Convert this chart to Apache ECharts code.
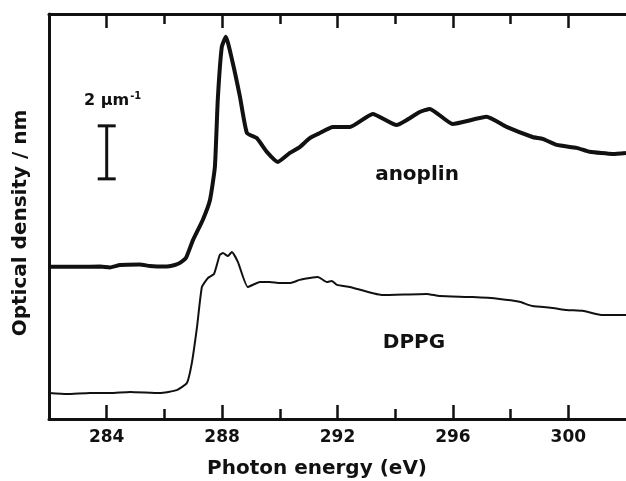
<!DOCTYPE html>
<html>

<head>
    <meta charset="UTF-8" />
    <script src="https://cdn.jsdelivr.net/npm/echarts@6/dist/echarts.min.js"></script>
</head>

<body style="margin: 0; overflow: hidden; background: #fff;">
    <div id="chart" style="width: 626px; height: 481px;"></div>
    <script type="text/javascript">

        // anoplin spectrum (thick line)
        var anoplinEnergy = [282.00, 283.07, 283.77, 284.11, 284.46, 285.15, 285.50, 286.02, 286.36, 286.54,
            286.75, 286.99, 287.33, 287.58, 287.75, 287.85, 287.99, 288.13, 288.37, 288.62,
            288.86, 289.20, 289.55, 289.93, 290.35, 290.69, 291.04, 291.39, 291.84, 292.43,
            293.22, 294.05, 294.40, 294.85, 295.20, 295.99, 297.17, 297.86, 298.76, 299.11,
            299.60, 300.29, 300.74, 301.54, 302.00];
        var anoplinOD = [5.74, 5.74, 5.75, 5.72, 5.81, 5.83, 5.77, 5.75, 5.81, 5.89,
            6.08, 6.75, 7.51, 8.26, 9.51, 12.04, 14.04, 14.42, 13.43, 12.15,
            10.79, 10.60, 10.08, 9.70, 10.04, 10.26, 10.60, 10.79, 11.02, 11.02,
            11.51, 11.09, 11.28, 11.58, 11.70, 11.13, 11.40, 11.02, 10.64, 10.57,
            10.34, 10.23, 10.08, 10.00, 10.04];

        // DPPG spectrum (thin line)
        var dppgEnergy = [282.00, 282.62, 283.42, 284.11, 284.81, 285.84, 286.43, 286.78, 286.95, 287.13,
            287.30, 287.51, 287.72, 287.92, 288.03, 288.20, 288.34, 288.55, 288.89, 289.31,
            289.65, 290.00, 290.35, 290.69, 291.04, 291.32, 291.63, 291.80, 291.98, 292.43,
            293.53, 295.09, 295.54, 296.69, 297.62, 298.31, 298.76, 299.46, 299.94, 300.50,
            301.19, 302.00];
        var dppgOD = [0.98, 0.94, 0.98, 0.98, 1.02, 0.98, 1.09, 1.36, 2.11, 3.47,
            4.98, 5.32, 5.47, 6.19, 6.26, 6.15, 6.30, 5.92, 4.98, 5.17,
            5.17, 5.13, 5.13, 5.25, 5.32, 5.36, 5.17, 5.21, 5.06, 4.98,
            4.68, 4.72, 4.64, 4.60, 4.53, 4.42, 4.26, 4.19, 4.11, 4.08,
            3.92, 3.92];

        // scale bar: [x, bottom, top]  (2 um^-1)
        var scaleBar = [[284, 9.06, 11.06]];

        var majorTicks = [284, 288, 292, 296, 300];
        var minorTicks = [286, 290, 294, 298];

        var font = 'DejaVu Sans';
        var ink = '#111';

        function pairs(xs, ys) {
            return xs.map(function (x, i) { return [x, ys[i]]; });
        }

        var myChart = echarts.init(document.getElementById('chart'));

        function xAx(pos, ticks, len, withLine, withLabel) {
            return {
                type: 'value',
                position: pos,
                min: 282,
                max: 302,
                axisLine: { show: withLine, onZero: false, lineStyle: { color: ink, width: 3 } },
                axisTick: { show: true, inside: true, length: len, customValues: ticks, lineStyle: { color: ink, width: 2.5 } },
                axisLabel: {
                    show: withLabel, customValues: ticks, margin: 10,
                    fontFamily: font, fontWeight: 'bold', fontSize: 17, color: ink
                },
                splitLine: { show: false }
            };
        }

        var option = {
            animation: false,
            backgroundColor: '#fff',
            grid: { left: 49, right: -2, top: 14, bottom: 62 },
            xAxis: [
                xAx('bottom', majorTicks, 14, true, true),
                xAx('bottom', minorTicks, 10, false, false),
                xAx('top', majorTicks, 14, true, false),
                xAx('top', minorTicks, 10, false, false)
            ],
            yAxis: {
                type: 'value',
                min: 0,
                max: 15.28,
                axisLine: { show: true, lineStyle: { color: ink, width: 3 } },
                axisTick: { show: false },
                axisLabel: { show: false },
                splitLine: { show: false }
            },
            series: [
                {
                    name: 'anoplin',
                    type: 'line',
                    data: pairs(anoplinEnergy, anoplinOD),
                    showSymbol: false,
                    smooth: 0.15,
                    lineStyle: { color: ink, width: 4 }
                },
                {
                    name: 'DPPG',
                    type: 'line',
                    data: pairs(dppgEnergy, dppgOD),
                    showSymbol: false,
                    smooth: 0.15,
                    lineStyle: { color: ink, width: 2 }
                },
                {
                    name: 'scale',
                    type: 'custom',
                    data: scaleBar,
                    renderItem: function (params, api) {
                        var lo = api.coord([api.value(0), api.value(1)]);
                        var hi = api.coord([api.value(0), api.value(2)]);
                        var half = 9;
                        var st = { stroke: ink, lineWidth: 3 };
                        return {
                            type: 'group',
                            children: [
                                { type: 'line', shape: { x1: lo[0], y1: lo[1], x2: hi[0], y2: hi[1] }, style: st },
                                { type: 'line', shape: { x1: lo[0] - half, y1: lo[1], x2: lo[0] + half, y2: lo[1] }, style: st },
                                { type: 'line', shape: { x1: hi[0] - half, y1: hi[1], x2: hi[0] + half, y2: hi[1] }, style: st }
                            ]
                        };
                    }
                }
            ],
            graphic: [
                {
                    type: 'text', left: 84, top: 91,
                    style: {
                        text: '{b|2 \u00b5m}{s|-1}',
                        rich: {
                            b: { fontFamily: font, fontWeight: 'bold', fontSize: 16, fill: ink },
                            s: { fontFamily: font, fontWeight: 'bold', fontSize: 10, fill: ink, verticalAlign: 'top', padding: [0, 0, 10, 1] }
                        }
                    }
                },
                {
                    type: 'text', x: 417, y: 175,
                    style: { text: 'anoplin', fontFamily: font, fontWeight: 'bold', fontSize: 20, fill: ink, align: 'center', verticalAlign: 'middle' }
                },
                {
                    type: 'text', x: 414, y: 343,
                    style: { text: 'DPPG', fontFamily: font, fontWeight: 'bold', fontSize: 20, fill: ink, align: 'center', verticalAlign: 'middle' }
                },
                {
                    type: 'text', x: 317, y: 469,
                    style: { text: 'Photon energy (eV)', fontFamily: font, fontWeight: 'bold', fontSize: 20, fill: ink, align: 'center', verticalAlign: 'middle' }
                },
                {
                    type: 'text', x: 21, y: 223, rotation: Math.PI / 2,
                    style: { text: 'Optical density / nm', fontFamily: font, fontWeight: 'bold', fontSize: 20, fill: ink, align: 'center', verticalAlign: 'middle' }
                }
            ]
        };

        myChart.setOption(option);

    </script>
</body>

</html>
